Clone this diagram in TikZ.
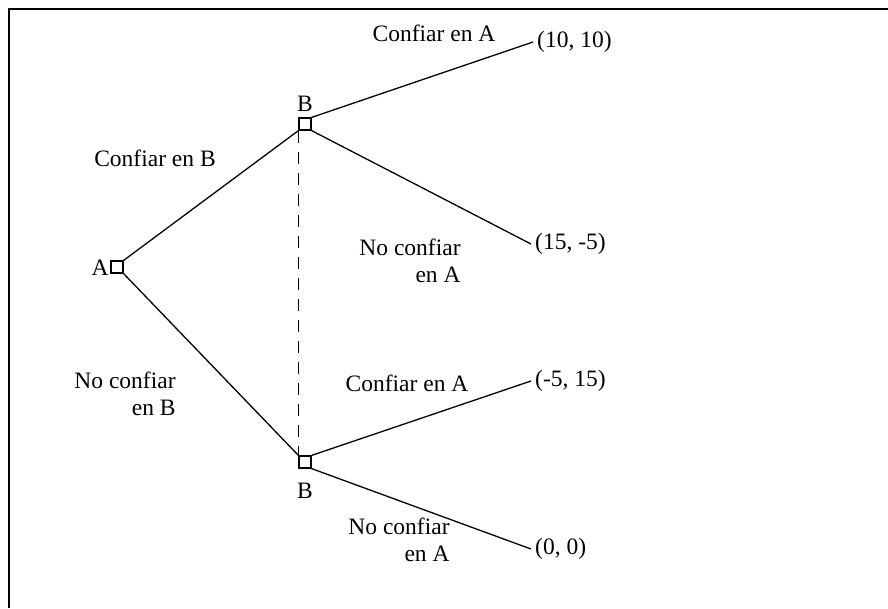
\documentclass[tikz,border=0pt]{standalone}
\usepackage{fontspec}
\setmainfont{Liberation Serif}
\begin{document}
\begin{tikzpicture}[x=1pt,y=-1pt,
    caja/.style={draw,fill=white,minimum size=12pt,inner sep=0pt,line width=1.2pt},
    rama/.style={line width=1.3pt},
    texto/.style={font=\fontsize{23.5}{27}\selectfont,inner sep=0pt},
    pago/.style={texto,anchor=west,inner xsep=4pt}]
    \useasboundingbox (0,0) rectangle (888,608);
    \draw[line width=2pt] (888,9) -- (9,9) -- (9,608);

    % nodos de decision
    \node[caja] (A) at (117,267) {};
    \node[caja] (B1) at (305,124) {};
    \node[caja] (B2) at (305,462) {};
    \node[texto] (lA) at (100,268) {A};
    \node[texto] (lB1) at (305,104) {B};
    \node[texto] (lB2) at (305,491) {B};

    % pagos
    \node[pago] (p1) at (533,42) {(10, 10)};
    \node[pago] (p2) at (531,244) {(15, -5)};
    \node[pago] (p3) at (531,381) {(-5, 15)};
    \node[pago] (p4) at (531,549) {(0, 0)};

    % ramas
    \draw[rama] (A.north east) -- (B1.south west);
    \draw[rama] (A.south east) -- (B2.north west);
    \draw[rama] (B1.north east) -- (p1.west);
    \draw[rama] (B1.south east) -- (p2.west);
    \draw[rama] (B2.north east) -- (p3.west);
    \draw[rama] (B2.south east) -- (p4.west);
    \draw[rama,dash pattern=on 12pt off 9pt] (B1.south west) -- (B2.north west);

    % etiquetas
    \node[texto] (cB) at (155,158) {Confiar en B};
    \node[texto,align=right] (ncB) at (125,394) {No confiar\\en B};
    \node[texto] (cA1) at (434,33) {Confiar en A};
    \node[texto,align=right] (ncA1) at (410,261) {No confiar\\en A};
    \node[texto] (cA2) at (407,383) {Confiar en A};
    \node[texto,align=right] (ncA2) at (399,540) {No confiar\\en A};
\end{tikzpicture}
\end{document}
